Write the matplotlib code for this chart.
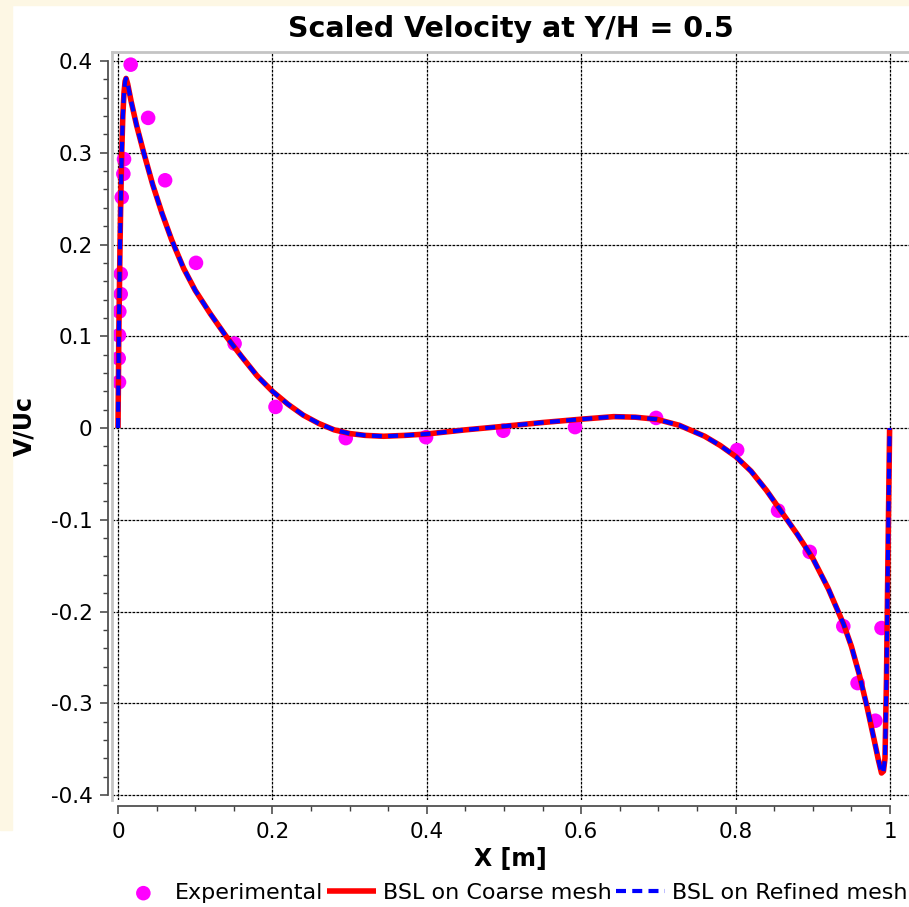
import numpy as np
import matplotlib.pyplot as plt
from matplotlib.lines import Line2D
from matplotlib.patches import Rectangle

exp_x = [0.0013, 0.0009, 0.0013, 0.0017, 0.0035, 0.0035, 0.0048, 0.0069, 0.0078,
         0.0164, 0.039, 0.061, 0.101, 0.151, 0.204, 0.295, 0.399, 0.499, 0.592,
         0.697, 0.802, 0.855, 0.896, 0.9395, 0.958, 0.981, 0.989]
exp_y = [0.050, 0.076, 0.101, 0.127, 0.146, 0.168, 0.2515, 0.277, 0.293,
         0.396, 0.338, 0.270, 0.180, 0.092, 0.023, -0.011, -0.010, -0.003, 0.001,
         0.011, -0.024, -0.090, -0.135, -0.216, -0.278, -0.319, -0.218]

# BSL profile (coarse and refined meshes lie on top of each other)
cfd_x = [0.0, 0.0005, 0.001, 0.0018, 0.0026, 0.0036, 0.0048, 0.0062, 0.0078, 0.0092,
         0.0104, 0.0125, 0.017, 0.024, 0.033, 0.045, 0.057, 0.0695, 0.085, 0.10,
         0.12, 0.14, 0.16, 0.18, 0.20, 0.22, 0.24, 0.26, 0.28, 0.30, 0.32, 0.344,
         0.372, 0.40, 0.45, 0.495, 0.55, 0.598, 0.642, 0.67, 0.698, 0.727, 0.76,
         0.78, 0.80, 0.82, 0.84, 0.86, 0.88, 0.90, 0.92, 0.94, 0.95, 0.96, 0.97,
         0.98, 0.985, 0.989, 0.9915, 0.9935, 0.9955, 0.9965, 0.998, 0.9995]
cfd_y = [0.0, 0.05, 0.10, 0.15, 0.20, 0.25, 0.30, 0.34, 0.366, 0.378,
         0.381, 0.375, 0.356, 0.330, 0.301, 0.265, 0.234, 0.205, 0.174, 0.150,
         0.124, 0.100, 0.078, 0.057, 0.040, 0.026, 0.014, 0.005, -0.002, -0.006, -0.008, -0.009,
         -0.008, -0.0065, -0.002, 0.0015, 0.006, 0.0095, 0.0124, 0.0118, 0.0095, 0.003, -0.009,
         -0.019, -0.031, -0.047, -0.068, -0.092, -0.116, -0.142, -0.175, -0.214, -0.238, -0.268, -0.303,
         -0.342, -0.362, -0.376, -0.374, -0.36, -0.27, -0.198, -0.097, 0.0]

x_ticks = [0, 0.2, 0.4, 0.6, 0.8, 1]
x_labels = ['0', '0.2', '0.4', '0.6', '0.8', '1']
y_ticks = [-0.4, -0.3, -0.2, -0.1, 0, 0.1, 0.2, 0.3, 0.4]
y_labels = ['-0.4', '-0.3', '-0.2', '-0.1', '0', '0.1', '0.2', '0.3', '0.4']

plt.rcParams['font.family'] = 'DejaVu Sans'

W, H = 909, 907
fig = plt.figure(figsize=(W / 100, H / 100), dpi=100, facecolor='white')
cream = '#fdf7e4'
fig.patches.append(Rectangle((0, 1 - 5 / H), 1, 5 / H, transform=fig.transFigure,
                             color=cream, zorder=-10))
fig.patches.append(Rectangle((0, 1 - 830 / H), 12 / W, 830 / H, transform=fig.transFigure,
                             color=cream, zorder=-10))

ax = fig.add_axes([112 / W, 107 / H, 1 - 112 / W, (800 - 52) / H])
ax.set_facecolor('white')

ax.plot(cfd_x, cfd_y, color='#ff0000', lw=4.0, solid_capstyle='butt',
        label='BSL on Coarse mesh', zorder=3)
ax.plot(cfd_x, cfd_y, color='#0000ff', lw=3.0, ls=(0, (2.4, 1.5)),
        label='BSL on Refined mesh', zorder=4)
ax.scatter(exp_x, exp_y, s=110, color='#ff00ff', edgecolors='none',
           label='Experimental', zorder=2)

ax.set_xlim(-0.0078, 1.0246)
ax.set_ylim(-0.4054, 0.4098)

ax.set_xticks(x_ticks)
ax.set_xticklabels(x_labels)
ax.set_yticks(y_ticks)
ax.set_yticklabels(y_labels)
ax.set_xticks(np.arange(0, 1.0001, 0.05), minor=True)
ax.set_yticks(np.arange(-0.4, 0.4001, 0.02), minor=True)

ax.grid(True, which='major', color='black', lw=0.9, ls=(0, (2.2, 1.0)))

ax.spines['right'].set_visible(False)
ax.spines['top'].set_color('#c4c4c4')
ax.spines['top'].set_linewidth(2.0)
ax.spines['left'].set_position(('outward', 3))
ax.spines['left'].set_bounds(-0.4, 0.4)
ax.spines['left'].set_color('#505050')
ax.spines['left'].set_linewidth(1.3)
ax.spines['bottom'].set_position(('outward', 4.5))
ax.spines['bottom'].set_bounds(0, 1)
ax.spines['bottom'].set_color('#505050')
ax.spines['bottom'].set_linewidth(1.3)
ax.add_line(Line2D([0, 0], [0, 1], transform=ax.transAxes, color='#c4c4c4', lw=2.0,
                   clip_on=False))

ax.tick_params(which='major', length=6, width=1.1, color='#404040', labelsize=15.5,
               pad=5, labelcolor='black')
ax.tick_params(which='minor', length=3.5, width=1.0, color='#404040')

ax.set_title('Scaled Velocity at Y/H = 0.5', fontsize=20.5, fontweight='bold', pad=11)
ax.set_xlabel('X [m]', fontsize=17, fontweight='bold', labelpad=4)
ax.set_ylabel('V/Uc', fontsize=17, fontweight='bold', labelpad=10)

handles, labels = ax.get_legend_handles_labels()
order = [2, 0, 1]
fig.legend([handles[i] for i in order], [labels[i] for i in order],
           loc='center', bbox_to_anchor=(513 / W, 1 - 893 / H), ncol=3, frameon=False,
           fontsize=16, handlelength=2.2, handletextpad=0.3, columnspacing=0.2,
           borderaxespad=0, borderpad=0)

fig.savefig('out.png', dpi=100, facecolor=fig.get_facecolor())
